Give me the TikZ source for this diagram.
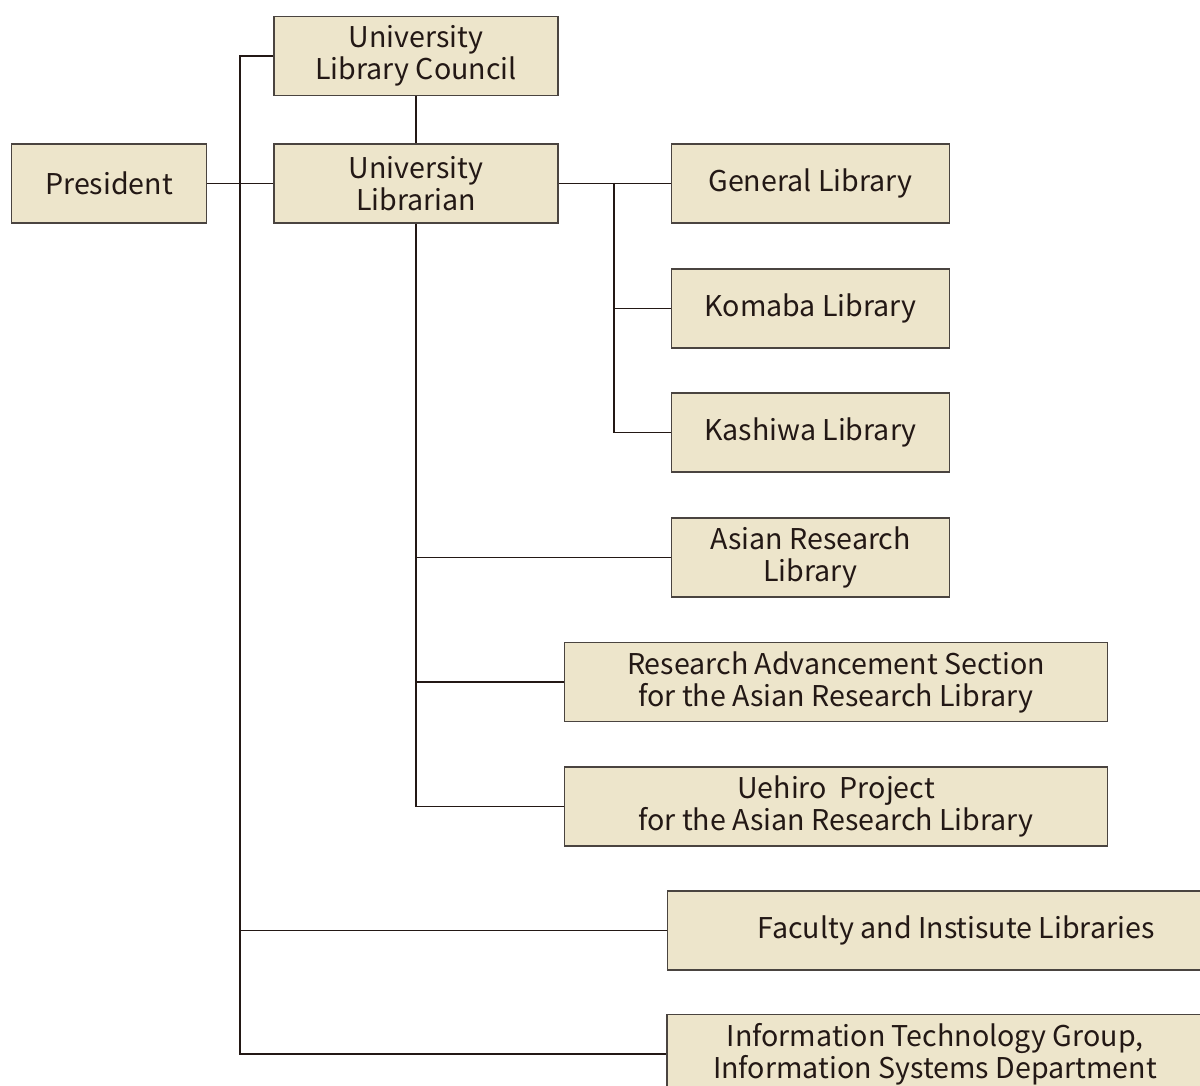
\documentclass[tikz,border=0pt]{standalone}
\usepackage{fontspec}
\setmainfont{Noto Sans CJK JP}
\definecolor{boxfill}{HTML}{EDE5CB}
\definecolor{boxline}{HTML}{4A4440}
\definecolor{ink}{HTML}{231815}
\begin{document}
\begin{tikzpicture}[x=1pt,y=-1pt]

\tikzset{unit/.style={draw=boxline, fill=boxfill, line width=1.4pt, text=ink, inner sep=0pt, align=center,
  font=\fontsize{28.6}{32}\selectfont, minimum height=79pt},
%widths of the boxes
unit/.default={284pt},
link/.style={draw=ink, line width=1.3pt}}

\useasboundingbox (0,0) rectangle (1200,1086);
\clip (0,0) rectangle (1200,1086);

\node [unit, minimum width=195pt] (president) at (109,183.5) {President};
\node [unit, minimum width=284pt] (council) at (416,56) {University\\Library Council};
\node [unit, minimum width=284pt] (librarian) at (416,183.5) {University\\Librarian};

\node [unit, minimum width=278pt] (general) at (810.5,183.5) {General Library};
\node [unit, minimum width=278pt] (komaba) at (810.5,308.5) {Komaba Library};
\node [unit, minimum width=278pt] (kashiwa) at (810.5,432.5) {Kashiwa Library};
\node [unit, minimum width=278pt] (asian) at (810.5,557.5) {Asian Research\\Library};
\node [unit, minimum width=543pt] (advance) at (836,682) {Research Advancement Section\\for the Asian Research Library};
\node [unit, minimum width=543pt] (uehiro) at (836,806.5) {Uehiro\ \ Project\\for the Asian Research Library};
\node [unit, minimum width=577pt] (faculty) at (956,930.5) {Faculty and Instisute Libraries};
\node [unit, minimum width=536pt] (itgroup) at (935,1054) {Information Technology Group,\\Information Systems Department};

\coordinate (trunk) at (240,0);
\coordinate (split) at (614,183);

\draw [link] (president.east) -- (librarian.west);
\draw [link] (council.south) -- (librarian.north);

\draw [link] (council.west) -- (council.west -| trunk) -- (trunk |- itgroup.west) -- (itgroup.west);
\draw [link] (trunk |- faculty.west) -- (faculty.west);

\draw [link] (librarian.east) -- (general.west);
\draw [link] (split) |- (kashiwa.west);
\draw [link] (split |- komaba.west) -- (komaba.west);

\draw [link] (librarian.south) |- (uehiro.west);
\draw [link] (librarian.south |- asian.west) -- (asian.west);
\draw [link] (librarian.south |- advance.west) -- (advance.west);

\end{tikzpicture}
\end{document}
